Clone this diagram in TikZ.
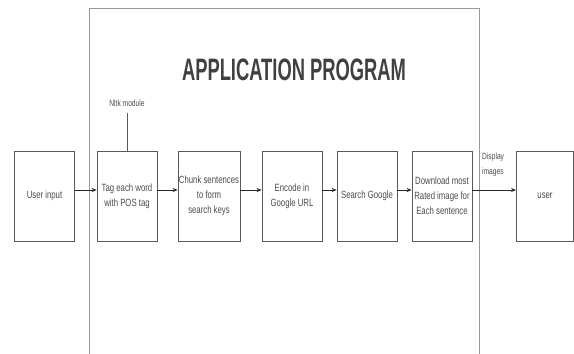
\documentclass[tikz,border=0pt]{standalone}
\usepackage{fontspec}
\setmainfont[FakeStretch=0.74]{Liberation Sans}
\usetikzlibrary{arrows.meta}
\begin{document}
\begin{tikzpicture}[x=1pt,y=-1pt,
  blk/.style={draw=black!65,line width=0.8pt,minimum width=60pt,minimum height=90pt,inner sep=1pt,align=center,text=black!70,font=\fontsize{10.5}{15}\selectfont},
  arr/.style={-{Stealth[length=5pt,width=4pt]},line width=0.7pt,draw=black!85},
  lbl/.style={text=black!70,font=\fontsize{9}{15}\selectfont,align=left,inner sep=0pt}]
\useasboundingbox (0,0) rectangle (574,354);
\fill[white] (0,0) rectangle (574,354);
% big application rectangle (open bottom)
\draw[black!40,line width=0.9pt] (89,356) -- (89,8) -- (479,8) -- (479,356);
\node[text=black!75,font=\fontsize{31}{33}\selectfont\bfseries,xscale=0.8] (title) at (294,70) {APPLICATION PROGRAM};
\node[blk] (ui) at (44.5,196) {User input};
\node[blk] (tag) at (127,196) {Tag each word\\with POS tag};
\node[blk] (chunk) at (209,196) {Chunk sentences\\to form\\search keys};
\node[blk] (enc) at (292,196) {Encode in\\Google URL};
\node[blk] (srch) at (367,196) {Search Google};
\node[blk] (dl) at (442,196) {Download most\\Rated image for\\Each sentence};
\node[blk,minimum width=57pt] (user) at (545,196) {user};
\node[lbl] (nltk) at (127,103) {Nltk module};
\draw[black!65,line width=0.7pt] (127,113) -- (tag.north);
\draw[arr] (ui.east |- 0,190) -- (tag.west |- 0,190);
\draw[arr] (tag.east |- 0,190) -- (chunk.west |- 0,190);
\draw[arr] (chunk.east |- 0,190) -- (enc.west |- 0,190);
\draw[arr] (enc.east |- 0,190) -- (srch.west |- 0,190);
\draw[arr] (srch.east |- 0,190) -- (dl.west |- 0,190);
\draw[arr] (dl.east |- 0,190) -- (user.west |- 0,190);
\node[lbl,anchor=north west] (disp) at (482,153) {Display\\images};
\end{tikzpicture}
\end{document}
